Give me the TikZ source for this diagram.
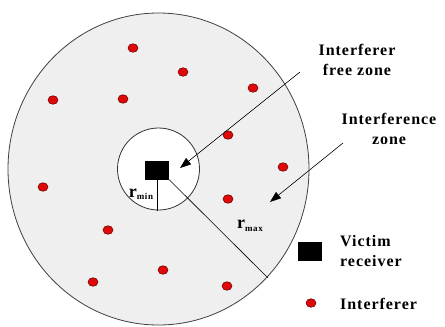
\documentclass[tikz,border=0pt]{standalone}
\usepackage{fontspec}
\newfontfamily\lblfont[LetterSpace=6]{Liberation Serif}
\usetikzlibrary{arrows.meta}
\usetikzlibrary{shapes}
\definecolor{zonegray}{RGB}{239,239,239}
\definecolor{dotred}{RGB}{222,10,10}
\definecolor{dotrim}{RGB}{120,0,0}
\tikzset{
  lbl/.style={font=\lblfont\bfseries\fontsize{16}{20}\selectfont, inner sep=0pt},
  dot/.style={ellipse, fill=dotred, draw=dotrim, line width=0.6pt, minimum width=10pt, minimum height=8.5pt, inner sep=0pt},
  victim/.style={rectangle, fill=black, minimum width=24pt, minimum height=19pt, inner sep=0pt},
  pointer/.style={line width=0.6pt, -{Triangle[length=11pt,width=8pt]}}
}
\begin{document}
\begin{tikzpicture}[x=1pt,y=-1pt]
\useasboundingbox (0,0) rectangle (445,327);
\coordinate (c) at (158.5,169);
\filldraw [fill=zonegray, draw=black!75, line width=0.8pt] (c) ellipse [x radius=150.5, y radius=156];
\filldraw [fill=white, draw=black!80, line width=0.8pt] (c) circle [radius=41];
\node [victim] (rx) at (157,170) {};
\coordinate (rminend) at (157,211);
\coordinate (rmaxend) at (268,278);
\draw [line width=0.6pt] (rx.south) -- (rminend);
\draw [line width=0.6pt] (rx.south east) -- (rmaxend);
\node [inner sep=0pt] (rmin) at (141,194) {\lblfont\bfseries\fontsize{18}{18}\selectfont r\raisebox{-0.3ex}{\fontsize{9}{9}\selectfont min}};
\node [inner sep=0pt] (rmax) at (250,226) {\lblfont\bfseries\fontsize{18}{18}\selectfont r\raisebox{-0.3ex}{\fontsize{9}{9}\selectfont max}};
\foreach \x/\y [count=\i] in {133/48, 183/72, 253/88, 53/100, 123/99, 228/135, 283/167, 43/187, 228/199, 108/230, 163/270, 93/282, 227/286}{
\node [dot] (d\i) at (\x,\y) {};
}
\node [lbl, align=center] (freezone) at (357,60) {Interferer\\free zone};
\node [lbl, align=center] (intzone) at (389,129) {Interference\\zone};
\coordinate (freetail) at (300,72);
\coordinate (freetip) at (180,168);
\coordinate (inttail) at (343,143);
\coordinate (inttip) at (270,202);
\draw [pointer] (freetail) -- (freetip);
\draw [pointer] (inttail) -- (inttip);
\node [victim] (legrx) at (310,251) {};
\node [lbl, align=left, anchor=west] (legrxtxt) at (340,251) {Victim\\receiver};
\node [dot] (legdot) at (311,303) {};
\node [lbl, anchor=west] (legdottxt) at (340,304) {Interferer};
\end{tikzpicture}
\end{document}
